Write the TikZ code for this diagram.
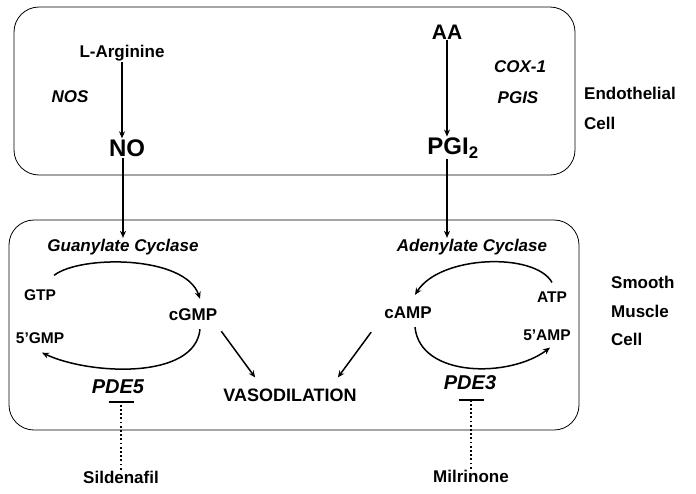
\documentclass[tikz,border=0pt]{standalone}
\usepackage[dvipsnames]{xcolor}
\usepackage{tikz}
\usetikzlibrary{arrows.meta}
\usepackage{fontspec}
\setmainfont{Liberation Sans}

\tikzset{
  lbl/.style={font=\fontsize{17}{20}\selectfont\bfseries, inner sep=1pt},
  sml/.style={font=\fontsize{15.5}{18}\selectfont\bfseries, inner sep=1pt},
  big/.style={font=\fontsize{24}{28}\selectfont\bfseries, inner sep=1pt},
  enz/.style={font=\fontsize{17}{20}\selectfont\bfseries\itshape, inner sep=1pt},
  pde/.style={font=\fontsize{20}{24}\selectfont\bfseries\itshape, inner sep=1pt},
  cellbox/.style={draw=black, line width=0.8pt, rounded corners=25pt},
  flow/.style={line width=1.5pt, -{Stealth[length=7pt,width=6pt]}},
  inhib/.style={line width=1.8pt, dash pattern=on 1.8pt off 2.4pt, -{Bar[width=25pt,line width=2pt]}}
}

\begin{document}
\begin{tikzpicture}[x=1pt,y=-1pt]
        \useasboundingbox (0,0) rectangle (696,493);

        % cells
        \draw[cellbox] (14,7) rectangle (575,175);
        \draw[cellbox] (9,220) rectangle (579,430);

        \node[lbl, anchor=west] (endo) at (583,93) {Endothelial};
        \node[lbl, anchor=west] (endocell) at (583,123) {Cell};
        \node[lbl, anchor=west] (smooth) at (610,282) {Smooth};
        \node[lbl, anchor=west] (muscle) at (610,311) {Muscle};
        \node[lbl, anchor=west] (smcell) at (610,339) {Cell};

        % endothelial side
        \node[lbl] (arg) at (122,53) {L-Arginine};
        \node[enz] (nos) at (70,97) {NOS};
        \node[big] (no) at (127,148) {NO};
        \node[big, font=\fontsize{21}{24}\selectfont\bfseries] (aa) at (447,32) {AA};
        \node[enz] (cox) at (520,67) {COX-1};
        \node[enz] (pgis) at (518,98) {PGIS};
        \node[big] (pgi) at (453,148) {PGI\textsubscript{2}};

        % smooth muscle side
        \node[enz] (gc) at (123,247) {Guanylate Cyclase};
        \node[enz] (ac) at (472,247) {Adenylate Cyclase};
        \node[sml] (gtp) at (40,295) {GTP};
        \node[lbl] (cgmp) at (193,315) {cGMP};
        \node[sml] (gmp) at (40,338) {5’GMP};
        \node[lbl] (camp) at (408,313) {cAMP};
        \node[sml] (atp) at (552,297) {ATP};
        \node[sml] (amp) at (547,335) {5’AMP};
        \node[lbl, font=\fontsize{18}{21}\selectfont\bfseries] (vaso) at (290,395) {VASODILATION};
        \node[pde] (pde5) at (118,387) {PDE5};
        \node[pde] (pde3) at (470,383) {PDE3};
        \node[lbl] (sild) at (121,477) {Sildenafil};
        \node[lbl] (milr) at (471,476) {Milrinone};
        \coordinate (bar5) at (121,401);
        \coordinate (bar3) at (471,399);

        \draw[flow] (arg.south) -- (arg.south |- no.north);
        \draw[flow] (gc.north |- no.south) -- (gc.north);
        \draw[flow] (aa.south) -- (aa.south |- pgi.north);
        \draw[flow] (aa.south |- pgi.south) -- (aa.south |- ac.north);

        \draw[flow] ([xshift=-3,yshift=13]gtp.north east) .. controls (80,255) and (185,255) .. ([xshift=7,yshift=9]cgmp.north);
        \draw[flow] ([xshift=7,yshift=-7]cgmp.south) .. controls (195,380) and (90,375) .. ([xshift=2,yshift=-8]gmp.south);
        \draw[flow] ([yshift=8]atp.north) .. controls (535,252) and (440,255) .. ([xshift=7,yshift=11]camp.north);
        \draw[flow] ([xshift=7,yshift=-7]camp.south) .. controls (420,378) and (510,378) .. ([xshift=3,yshift=-6]amp.south);

        \draw[flow] ([xshift=3,yshift=-9]cgmp.south east) -- ([xshift=33,yshift=10]vaso.north west);
        \draw[flow] ([xshift=-12,yshift=-12]camp.south west) -- ([xshift=-20,yshift=10]vaso.north east);

        \draw[inhib] (sild.north) -- (bar5);
        \draw[inhib] (milr.north) -- (bar3);

\end{tikzpicture}
\end{document}
